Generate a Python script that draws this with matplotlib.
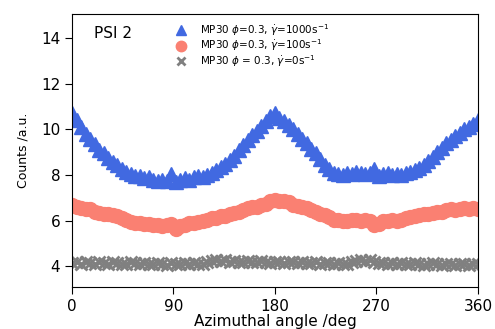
import numpy as np
import matplotlib.pyplot as plt

# azimuthal angle (deg), one point every 4 degrees
angle = np.arange(0, 361, 4)

counts_1000 = [
    10.7, 10.4, 10.1, 9.8, 9.6, 9.35, 9.1, 8.95, 8.75, 8.55,
    8.45, 8.25, 8.15, 8.05, 7.95, 7.95, 7.85, 7.9, 7.8, 7.75,
    7.8, 7.75, 8.05, 7.7, 7.8, 7.85, 7.8, 7.9, 7.95, 7.9,
    8.0, 8.1, 8.2, 8.35, 8.5, 8.65, 8.85, 9.1, 9.3, 9.55,
    9.75, 9.95, 10.15, 10.35, 10.6, 10.7, 10.5, 10.35, 10.2, 10.0,
    9.8, 9.6, 9.4, 9.15, 8.95, 8.7, 8.45, 8.25, 8.1, 8.05,
    8.0, 8.1, 8.05, 8.15, 8.1, 8.05, 8.1, 8.25, 7.95, 8.05,
    8.1, 8.0, 8.05, 8.0, 8.1, 8.15, 8.2, 8.3, 8.45, 8.6,
    8.8, 9.0, 9.2, 9.4, 9.55, 9.7, 9.85, 10.0, 10.1, 10.25,
    10.4,
]

counts_100 = [
    6.7, 6.6, 6.55, 6.5, 6.5, 6.4, 6.35, 6.3, 6.3, 6.25,
    6.2, 6.1, 6.05, 5.95, 5.9, 5.9, 5.85, 5.85, 5.8, 5.8,
    5.75, 5.8, 5.85, 5.65, 5.75, 5.8, 5.9, 5.9, 5.95, 6.0,
    6.05, 6.1, 6.1, 6.2, 6.2, 6.3, 6.35, 6.4, 6.45, 6.55,
    6.6, 6.6, 6.7, 6.75, 6.85, 6.9, 6.85, 6.85, 6.8, 6.7,
    6.65, 6.6, 6.55, 6.45, 6.4, 6.3, 6.25, 6.15, 6.05, 6.05,
    6.0, 6.0, 6.05, 6.05, 6.0, 6.05, 6.0, 5.8, 5.85, 6.0,
    6.0, 6.05, 6.0, 6.05, 6.1, 6.15, 6.2, 6.25, 6.3, 6.3,
    6.35, 6.4, 6.4, 6.45, 6.5, 6.45, 6.5, 6.55, 6.5, 6.55,
    6.5,
]

counts_0 = [
    4.15, 4.2, 4.1, 4.2, 4.15, 4.1, 4.2, 4.15, 4.1, 4.2,
    4.15, 4.1, 4.1, 4.2, 4.15, 4.1, 4.15, 4.1, 4.1, 4.15,
    4.1, 4.05, 4.15, 4.1, 4.1, 4.15, 4.1, 4.15, 4.1, 4.1,
    4.2, 4.25, 4.3, 4.25, 4.3, 4.2, 4.25, 4.2, 4.2, 4.25,
    4.2, 4.2, 4.25, 4.2, 4.15, 4.2, 4.2, 4.15, 4.2, 4.2,
    4.15, 4.2, 4.15, 4.15, 4.2, 4.1, 4.15, 4.15, 4.1, 4.15,
    4.1, 4.1, 4.2, 4.25, 4.3, 4.25, 4.3, 4.2, 4.15, 4.15,
    4.1, 4.15, 4.1, 4.15, 4.1, 4.1, 4.15, 4.1, 4.05, 4.1,
    4.15, 4.1, 4.05, 4.1, 4.1, 4.05, 4.1, 4.1, 4.05, 4.1,
    4.1,
]

labels = [
    r'MP30 $\phi$=0.3, $\dot{\gamma}$=1000s$^{-1}$',
    r'MP30 $\phi$=0.3, $\dot{\gamma}$=100s$^{-1}$',
    r'MP30 $\phi$ = 0.3, $\dot{\gamma}$=0s$^{-1}$',
]

fig = plt.figure(figsize=(4.95, 3.29), dpi=100)
ax = fig.add_axes([0.1455, 0.1277, 0.82, 0.8297])

ax.plot(angle, counts_1000, linestyle='none', marker='^', ms=10,
        color='#4169E1', label=labels[0])
ax.plot(angle, counts_100, linestyle='none', marker='o', ms=10,
        color='#FA8072', label=labels[1])
ax.plot(angle, counts_0, linestyle='none', marker='x', ms=8, mew=2,
        color='#808080', label=labels[2])

ax.set_xlim(0, 360)
ax.set_ylim(3.1, 15.05)
ax.set_xticks([0, 90, 180, 270, 360])
ax.set_yticks([4, 6, 8, 10, 12, 14])
ax.tick_params(labelsize=11, length=5)
ax.set_xlabel('Azimuthal angle /deg', fontsize=11, labelpad=0)
ax.set_ylabel('Counts /a.u.', fontsize=9, labelpad=8)

ax.text(0.055, 0.93, 'PSI 2', transform=ax.transAxes, fontsize=11, va='center')
ax.legend(loc='upper left', bbox_to_anchor=(0.24, 0.985), frameon=False,
          fontsize=7.5, handletextpad=1.0, labelspacing=-0.05,
          borderaxespad=0.0, markerscale=0.75, handlelength=1.5)

fig.savefig('out.png', dpi=100)
